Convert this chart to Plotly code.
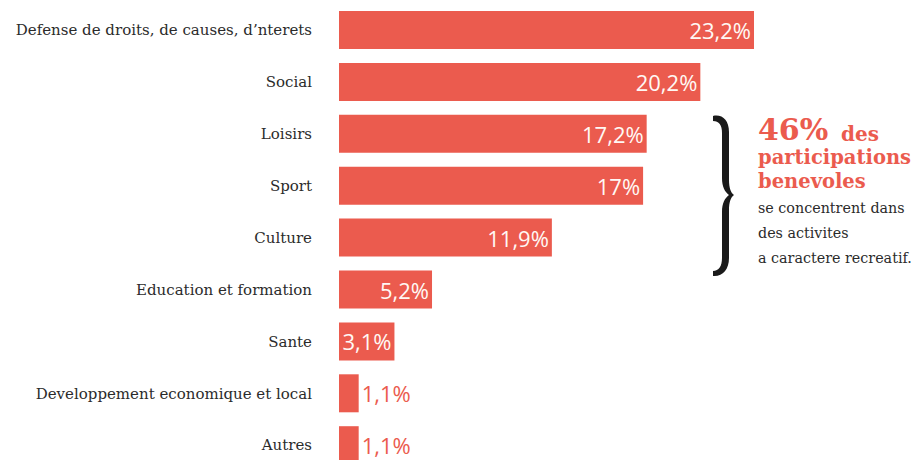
import plotly.graph_objects as go

categories = [
    "Defense de droits, de causes, d’nterets",
    "Social",
    "Loisirs",
    "Sport",
    "Culture",
    "Education et formation",
    "Sante",
    "Developpement economique et local",
    "Autres",
]
values = [23.2, 20.2, 17.2, 17.0, 11.9, 5.2, 3.1, 1.1, 1.1]
value_labels = ["23,2%", "20,2%", "17,2%", "17%", "11,9%", "5,2%", "3,1%", "1,1%", "1,1%"]

RED = "#EB5B4E"
OFF = 8                      # page body margin
W, H = 921 - OFF, 460 - OFF
L, R, T, B = 339 - OFF, 0, 0, 0
PW, PH = W - L - R, H - T - B


def px_x(x):
    return (x - OFF - L) / PW


def px_y(y):
    return (H - B - (y - OFF)) / PH


fig = go.Figure()
fig.add_trace(go.Bar(
    x=values,
    y=categories,
    orientation="h",
    marker=dict(color=RED, line=dict(width=0)),
    text=value_labels,
    textposition="auto",
    insidetextanchor="end",
    insidetextfont=dict(family="Open Sans", size=22, color="#FFF8F4"),
    outsidetextfont=dict(family="Open Sans", size=22, color=RED),
    cliponaxis=False,
    hoverinfo="skip",
))

pitch = 51.9
units = PH / pitch
top = -(30 - OFF) / pitch    # category 0 centred at reference y=30

fig.update_layout(
    width=W, height=H,
    margin=dict(l=L, r=R, t=T, b=B, pad=0),
    paper_bgcolor="white", plot_bgcolor="white",
    showlegend=False,
    bargap=0.268,
    xaxis=dict(range=[0, 23.2 * PW / 415], visible=False, fixedrange=True),
    yaxis=dict(
        type="category",
        categoryorder="array", categoryarray=categories,
        range=[top + units, top],
        showgrid=False, zeroline=False, showline=False, ticks="",
        ticklabelstandoff=26,
        automargin=False,
        tickfont=dict(family="DejaVu Serif", size=15, color="#2b2b2b"),
    ),
)

# curly brace (decoration)
pts = [
    ("M", [(713, 116)]),
    ("C", [(722, 114), (729, 120), (729, 132)]),
    ("L", [(729, 180)]),
    ("C", [(729, 188), (731, 193), (734, 195)]),
    ("C", [(731, 197), (729, 202), (729, 210)]),
    ("L", [(729, 258)]),
    ("C", [(729, 270), (722, 277), (713, 276)]),
    ("L", [(713, 271)]),
    ("C", [(719, 271), (722, 266), (722, 258)]),
    ("L", [(722, 212)]),
    ("C", [(722, 203), (725, 198), (729, 195)]),
    ("C", [(725, 192), (722, 187), (722, 178)]),
    ("L", [(722, 133)]),
    ("C", [(722, 125), (719, 121), (713, 121)]),
]
path = ""
for cmd, ps in pts:
    path += cmd + " " + ", ".join(f"{px_x(a):.5f} {px_y(b):.5f}" for a, b in ps) + " "
path += "Z"
fig.add_shape(type="path", path=path, xref="paper", yref="paper",
              fillcolor="#1a1a1a", line=dict(width=0))

ann = [
    ("<b>46%</b>", 757, 130, 30, RED),
    ("<b>des</b>", 840, 134, 20, RED),
    ("<b>participations</b>", 757, 158, 19.5, RED),
    ("<b>benevoles</b>", 757, 181, 19.5, RED),
    ("se concentrent dans", 757, 208, 14.3, "#2b2b2b"),
    ("des activites", 757, 233, 14.3, "#2b2b2b"),
    ("a caractere recreatif.", 757, 258, 14.3, "#2b2b2b"),
]
for txt, x, y, s, c in ann:
    fig.add_annotation(text=txt, x=px_x(x), y=px_y(y), xref="paper", yref="paper",
                       xanchor="left", yanchor="middle", showarrow=False,
                       borderpad=0,
                       font=dict(family="DejaVu Serif", size=s, color=c))

fig.write_html("out.html")
